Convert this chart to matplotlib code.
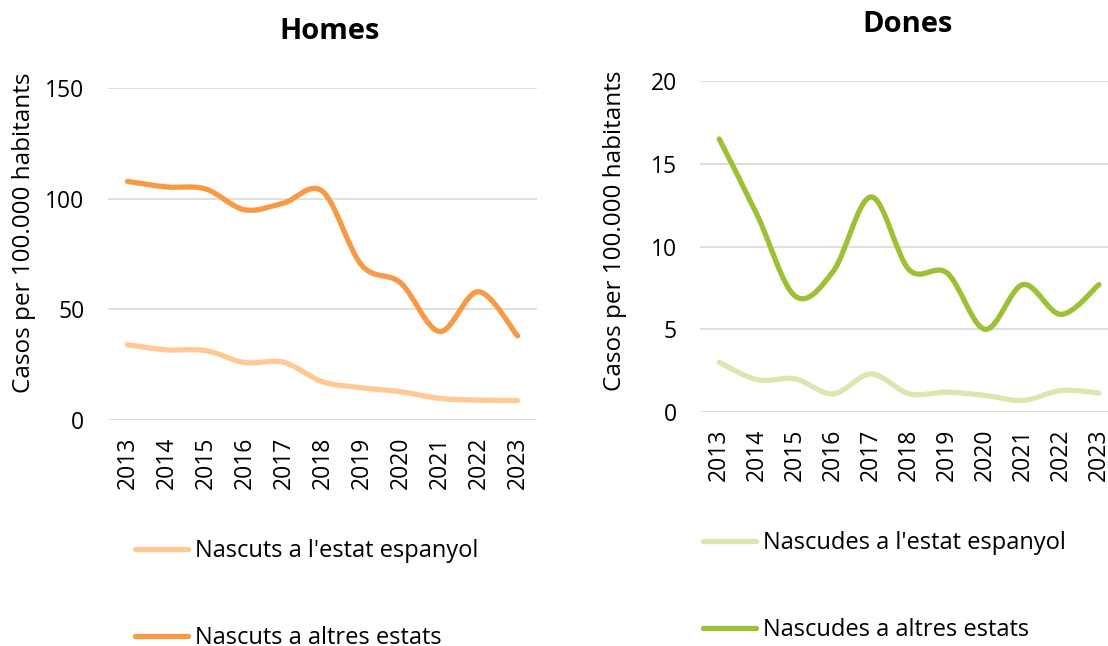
import matplotlib.pyplot as plt
from matplotlib.path import Path
from matplotlib.patches import PathPatch
from matplotlib.lines import Line2D

plt.rcParams['font.family'] = ['Open Sans', 'DejaVu Sans']

anys = ['2013', '2014', '2015', '2016', '2017', '2018', '2019', '2020', '2021', '2022', '2023']

# Homes
homes_espanyol = [34, 31.7, 31.4, 26, 26.1, 17.3, 14.6, 12.8, 9.8, 9, 8.8]
homes_altres = [107.8, 105.3, 104.4, 95, 98, 103.3, 70, 62, 40, 58, 38]

# Dones
dones_espanyol = [3.0, 1.95, 2.0, 1.1, 2.3, 1.1, 1.2, 1.0, 0.7, 1.3, 1.15]
dones_altres = [16.5, 11.9, 7.0, 8.5, 13.0, 8.6, 8.4, 5.0, 7.7, 5.9, 7.7]

c_light_or = '#FFC993'
c_dark_or = '#F79A45'
c_light_gr = '#D9E8B0'
c_dark_gr = '#9DC135'
LW = 3.8


def smooth_line(ax, ys, color):
    # corba suavitzada estil Excel (Bezier cubica)
    xs = list(range(len(ys)))
    pts = list(zip(xs, ys))
    verts = [pts[0]]
    codes = [Path.MOVETO]
    n = len(pts)
    for i in range(n - 1):
        p0 = pts[i - 1] if i > 0 else pts[i]
        p1 = pts[i]
        p2 = pts[i + 1]
        p3 = pts[i + 2] if i + 2 < n else pts[i + 1]
        c1 = (p1[0] + (p2[0] - p0[0]) / 6, p1[1] + (p2[1] - p0[1]) / 6)
        c2 = (p2[0] - (p3[0] - p1[0]) / 6, p2[1] - (p3[1] - p1[1]) / 6)
        verts += [c1, c2, p2]
        codes += [Path.CURVE4] * 3
    ax.add_patch(PathPatch(Path(verts, codes), fill=False, edgecolor=color,
                           lw=LW, capstyle='round', joinstyle='round', zorder=3))


def setup(ax, ymax, step):
    ax.set_xlim(-0.5, len(anys) - 0.5)
    ax.set_ylim(0, ymax)
    ax.set_yticks(range(0, ymax + 1, step))
    ax.set_xticks(range(len(anys)))
    ax.set_xticklabels(anys, rotation=90)
    ax.tick_params(length=0, labelsize=16.5, colors='black')
    ax.tick_params(axis='x', pad=12)
    ax.tick_params(axis='y', pad=17)
    for s in ax.spines.values():
        s.set_visible(False)
    ax.grid(axis='y', color='#D9D9D9', lw=1.2)
    ax.set_axisbelow(True)


def add_legend(handles, labels, x, y):
    fig.legend(handles, labels, loc='upper left', bbox_to_anchor=(x, y),
               frameon=False, fontsize=17, handlelength=2.25, handletextpad=0.3,
               labelspacing=2.68, borderpad=0, borderaxespad=0)


fig = plt.figure(figsize=(11.08, 6.46), dpi=100)

ax1 = fig.add_axes([0.0975, 0.3498, 0.3872, 0.514])
setup(ax1, 150, 50)
smooth_line(ax1, homes_espanyol, c_light_or)
smooth_line(ax1, homes_altres, c_dark_or)
fig.text(0.2978, 0.9505, 'Homes', fontsize=21, fontweight='bold', ha='center', va='center')
fig.text(0.0217, 0.6393, 'Casos per 100.000 habitants', fontsize=17.5, rotation=90,
         ha='center', va='center')
h1 = [Line2D([], [], color=c_light_or, lw=LW, solid_capstyle='round'),
      Line2D([], [], color=c_dark_or, lw=LW, solid_capstyle='round')]
add_legend(h1, ["Nascuts a l'estat espanyol", 'Nascuts a altres estats'], 0.1218, 0.166)

ax2 = fig.add_axes([0.632, 0.3622, 0.377, 0.5124])
setup(ax2, 20, 5)
smooth_line(ax2, dones_espanyol, c_light_gr)
smooth_line(ax2, dones_altres, c_dark_gr)
fig.text(0.8195, 0.9628, 'Dones', fontsize=21, fontweight='bold', ha='center', va='center')
fig.text(0.555, 0.6424, 'Casos per 100.000 habitants', fontsize=17.5, rotation=90,
         ha='center', va='center')
h2 = [Line2D([], [], color=c_light_gr, lw=LW, solid_capstyle='round'),
      Line2D([], [], color=c_dark_gr, lw=LW, solid_capstyle='round')]
add_legend(h2, ["Nascudes a l'estat espanyol", 'Nascudes a altres estats'], 0.6345, 0.178)

fig.savefig('out.png', dpi=100)
